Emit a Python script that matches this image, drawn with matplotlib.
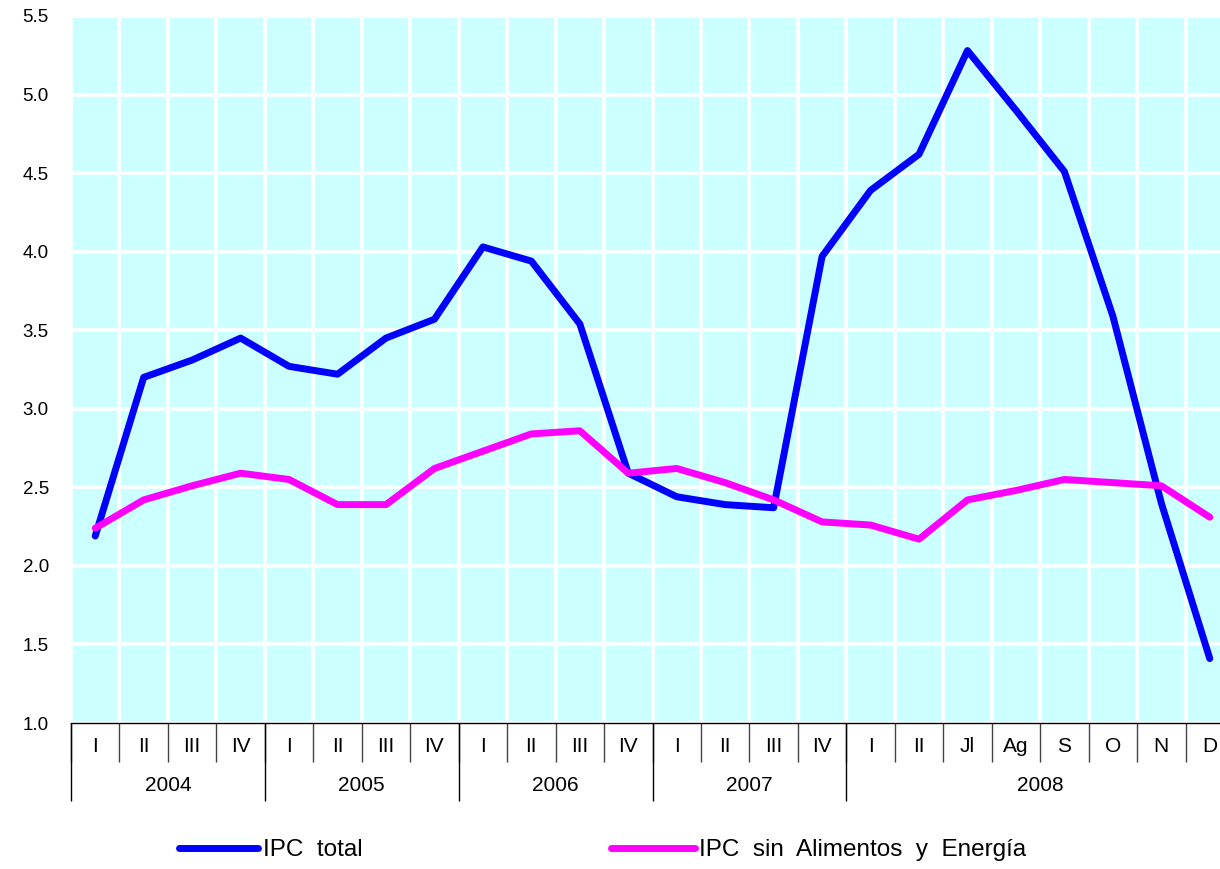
import numpy as np
import matplotlib
matplotlib.use("Agg")
import matplotlib.pyplot as plt

# Datos (variacion % anual)
years = ["2004", "2005", "2006", "2007", "2008"]
periods_per_year = [4, 4, 4, 4, 8]
periods = ["I", "II", "III", "IV",
           "I", "II", "III", "IV",
           "I", "II", "III", "IV",
           "I", "II", "III", "IV",
           "I", "II", "Jl", "Ag", "S", "O", "N", "D"]

ipc_total = [2.19, 3.20, 3.31, 3.45, 3.27, 3.22, 3.45, 3.57,
             4.03, 3.94, 3.54, 2.59, 2.44, 2.39, 2.37, 3.97,
             4.39, 4.62, 5.28, 4.90, 4.51, 3.59, 2.40, 1.41]
ipc_subyacente = [2.24, 2.42, 2.51, 2.59, 2.55, 2.39, 2.39, 2.62,
                  2.73, 2.84, 2.86, 2.59, 2.62, 2.53, 2.42, 2.28,
                  2.26, 2.17, 2.42, 2.48, 2.55, 2.53, 2.51, 2.31]

yticks = [1.0, 1.5, 2.0, 2.5, 3.0, 3.5, 4.0, 4.5, 5.0, 5.5]

plt.rcParams['font.family'] = ['Liberation Sans', 'DejaVu Sans']

fig = plt.figure(figsize=(12.2, 8.69), dpi=100)
# el area del grafico sigue mas alla del borde derecho, como en la imagen original
ax = fig.add_axes([71 / 1220, 146 / 869, 1163 / 1220, 707 / 869])
ax.set_facecolor("#CCFFFF")

n = len(periods)
x = np.arange(n) + 0.5

linea_total, = ax.plot(x, ipc_total, color="#0000FF", lw=5,
                       solid_capstyle="round", zorder=3)
linea_sub, = ax.plot(x, ipc_subyacente, color="#FF00FF", lw=5,
                     solid_capstyle="round", zorder=4)

ax.set_xlim(0, n)
ax.set_ylim(1.0, 5.5)

# rejilla blanca
ax.set_xticks(np.arange(n + 1))
ax.set_xticklabels([])
ax.set_yticks(yticks)
ax.set_yticklabels([f"{v:.1f}" for v in yticks], fontsize=13.5)
ax.tick_params(axis="both", length=0)
ax.tick_params(axis="y", pad=16)
ax.grid(True, color="white", lw=2.6, zorder=1)
ax.set_axisbelow(True)

for s in ["top", "right", "left"]:
    ax.spines[s].set_visible(False)
ax.spines["bottom"].set_color("black")
ax.spines["bottom"].set_linewidth(1.0)
ax.spines["bottom"].set_zorder(5)

trans = ax.get_xaxis_transform()
# separadores de periodo
ax.vlines(np.arange(n + 1), -0.055, 0, transform=trans, color="#444444",
          lw=1.0, clip_on=False)
for xi, lab in zip(x, periods):
    ax.text(xi, -0.033, lab, transform=trans, ha="center", va="center",
            fontsize=15)

# separadores y etiquetas de año
bordes = np.concatenate([[0], np.cumsum(periods_per_year)])
ax.vlines(bordes, -0.11, 0, transform=trans, color="black", lw=1.0,
          clip_on=False)
for i, yr in enumerate(years):
    centro = (bordes[i] + bordes[i + 1]) / 2
    ax.text(centro, -0.088, yr, transform=trans, ha="center", va="center",
            fontsize=15)

# leyenda
fig.legend([linea_total], ["IPC  total"], loc="center left",
           bbox_to_anchor=(178.5 / 1220, 1 - 850 / 869), frameon=False,
           fontsize=17.5, handlelength=3.29, handletextpad=0.2,
           borderpad=0, borderaxespad=0)
fig.legend([linea_sub], ["IPC  sin  Alimentos  y  Energía"], loc="center left",
           bbox_to_anchor=(610.5 / 1220, 1 - 850 / 869), frameon=False,
           fontsize=17.5, handlelength=3.46, handletextpad=0.2,
           borderpad=0, borderaxespad=0)

fig.savefig("out.png", dpi=100)
